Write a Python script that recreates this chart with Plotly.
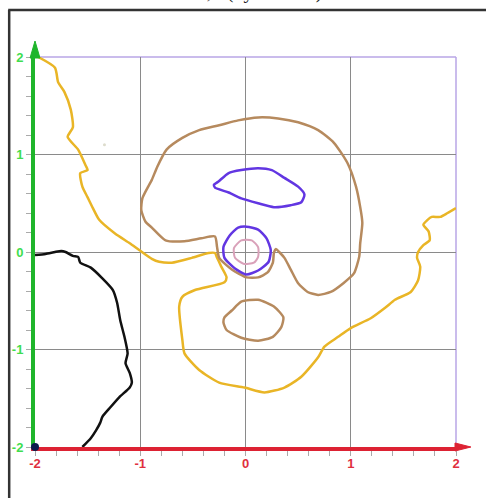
import plotly.graph_objects as go

# ---- data (data units) ----
yellow_x = [-1.97, -1.81, -1.78, -1.72, -1.66, -1.64, -1.69, -1.59, -1.52, -1.50, -1.57, -1.55, -1.50, -1.45, -1.39,
            -1.24, -1.10, -1.01, -0.89, -0.82, -0.70, -0.51, -0.35, -0.29, -0.27, -0.23, -0.18, -0.20, -0.48, -0.60,
            -0.63, -0.60, -0.58, -0.44, -0.25, -0.01, 0.18, 0.37, 0.53, 0.69, 0.75, 0.88, 1.00, 1.19, 1.33, 1.42,
            1.57, 1.64, 1.66, 1.63, 1.64, 1.69, 1.75, 1.74, 1.69, 1.73, 1.77, 1.85, 1.92, 2.00]
yellow_y = [2.00, 1.89, 1.74, 1.64, 1.46, 1.28, 1.18, 1.05, 0.89, 0.84, 0.81, 0.67, 0.56, 0.45, 0.33,
            0.19, 0.09, 0.02, -0.07, -0.10, -0.11, -0.06, -0.01, -0.01, -0.06, -0.15, -0.26, -0.31, -0.39, -0.46,
            -0.56, -0.90, -1.04, -1.21, -1.34, -1.39, -1.44, -1.39, -1.28, -1.08, -0.97, -0.87, -0.78, -0.68, -0.57, -0.49,
            -0.41, -0.29, -0.15, -0.06, 0.00, 0.07, 0.12, 0.21, 0.28, 0.33, 0.36, 0.36, 0.40, 0.45]

black_x = [-2.00, -1.90, -1.81, -1.75, -1.71, -1.64, -1.59, -1.57, -1.47, -1.36, -1.26, -1.22, -1.19, -1.15, -1.12,
           -1.14, -1.10, -1.08, -1.10, -1.20, -1.29, -1.36, -1.38, -1.42, -1.47, -1.55]
black_y = [-0.03, -0.02, 0.00, 0.01, 0.00, -0.04, -0.05, -0.11, -0.16, -0.27, -0.39, -0.52, -0.70, -0.87, -1.04,
           -1.14, -1.24, -1.34, -1.39, -1.49, -1.60, -1.69, -1.75, -1.83, -1.91, -2.00]

brown_x = [-0.29, -0.42, -0.58, -0.76, -0.89, -0.95, -0.99, -0.98, -0.93, -0.89, -0.84, -0.75, -0.60, -0.44, -0.25,
           -0.07, 0.12, 0.31, 0.50, 0.69, 0.84, 0.97, 1.05, 1.09, 1.11, 1.09, 1.08, 1.03, 0.93, 0.81, 0.69, 0.59,
           0.50, 0.43, 0.37, 0.32, 0.29, 0.27, 0.26, 0.21, 0.12, 0.01, -0.13, -0.25, -0.27, -0.29]
brown_y = [0.16, 0.14, 0.11, 0.12, 0.25, 0.31, 0.43, 0.55, 0.66, 0.74, 0.87, 1.05, 1.17, 1.25, 1.30,
           1.35, 1.38, 1.37, 1.33, 1.25, 1.12, 0.91, 0.67, 0.46, 0.30, 0.09, -0.05, -0.22, -0.32, -0.41, -0.44, -0.41,
           -0.32, -0.18, -0.06, 0.00, 0.03, -0.01, -0.11, -0.21, -0.26, -0.26, -0.18, -0.06, 0.05, 0.16]

oval_x = [-0.21, -0.20, -0.13, -0.04, 0.12, 0.27, 0.36, 0.34, 0.26, 0.12, -0.04, -0.18, -0.21]
oval_y = [-0.72, -0.67, -0.60, -0.51, -0.49, -0.56, -0.67, -0.77, -0.87, -0.91, -0.88, -0.80, -0.72]

blue_top_x = [-0.30, -0.26, -0.16, -0.04, 0.12, 0.25, 0.37, 0.50, 0.56, 0.53, 0.43, 0.27, 0.12, -0.04, -0.16, -0.29, -0.30]
blue_top_y = [0.69, 0.72, 0.81, 0.84, 0.86, 0.84, 0.76, 0.67, 0.59, 0.51, 0.48, 0.46, 0.50, 0.55, 0.61, 0.66, 0.69]

blue_ring_x = [0.01, 0.12, 0.20, 0.24, 0.22, 0.12, 0.01, -0.10, -0.20, -0.21, -0.15, -0.07, 0.01]
blue_ring_y = [0.26, 0.23, 0.14, 0.02, -0.10, -0.19, -0.23, -0.17, -0.06, 0.05, 0.17, 0.25, 0.26]

pink_x = [-0.04, 0.06, 0.12, 0.12, 0.08, -0.02, -0.10, -0.11, -0.04]
pink_y = [0.12, 0.12, 0.05, -0.05, -0.11, -0.12, -0.06, 0.04, 0.12]

tick_vals = [-2, -1, 0, 1, 2]
tick_text = ["-2", "-1", "0", "1", "2"]
title_text = "t = 0,5 (by value a)"

# ---- figure ----
W, H = 486, 498
ML, MR, MT, MB = 32, 30, 57, 51
PW, PH = W - ML - MR, H - MT - MB


def px(xp):
    return (xp - ML) / PW


def py(yp):
    return (H - MB - yp) / PH


fig = go.Figure()
curves = [
    (yellow_x, yellow_y, "#E9B526", 2.5),
    (black_x, black_y, "#111111", 2.5),
    (brown_x, brown_y, "#B68A5E", 2.5),
    (oval_x, oval_y, "#B68A5E", 2.5),
    (blue_top_x, blue_top_y, "#6236E2", 2.5),
    (blue_ring_x, blue_ring_y, "#6236E2", 2.5),
    (pink_x, pink_y, "#D9A1B9", 2),
]
for xs, ys, c, w in curves:
    fig.add_trace(go.Scatter(x=xs, y=ys, mode="lines", line=dict(color=c, width=w, shape="spline", smoothing=0.6),
                             hoverinfo="skip", showlegend=False))

fig.add_trace(go.Scatter(x=[-1.34], y=[1.10], mode="markers", marker=dict(color="#dddccc", size=3),
                         showlegend=False, hoverinfo="skip"))
fig.add_trace(go.Scatter(x=[-2], y=[-2], mode="markers", marker=dict(color="#0d1a4d", size=8),
                         cliponaxis=False, showlegend=False, hoverinfo="skip"))

axis_common = dict(range=[-2, 2], tickmode="array", tickvals=tick_vals, ticktext=tick_text,
                   showgrid=True, gridcolor="#8a8a8a", gridwidth=1, zeroline=False,
                   ticks="outside", ticklen=5, tickcolor="#aaaaaa", tickwidth=1,
                   minor=dict(dtick=0.2, tick0=0, ticks="outside", ticklen=5, tickcolor="#aaaaaa", showgrid=False),
                   showline=True, linewidth=4, fixedrange=True, layer="below traces")

fig.update_xaxes(**axis_common, linecolor="#DD2233", ticklabelstandoff=-4,
                 tickfont=dict(family="Liberation Sans, Arial", size=13, color="#E0303E", weight="bold"))
fig.update_yaxes(**axis_common, linecolor="#1FB52B",
                 tickfont=dict(family="Liberation Sans, Arial", size=13, color="#3FDD4F", weight="bold"))

shapes = [
    # lavender border at x=2 and y=2
    dict(type="line", xref="paper", yref="paper", x0=0, x1=1, y0=1, y1=1, line=dict(color="#B9A6E6", width=1.5),
         layer="below"),
    dict(type="line", xref="paper", yref="paper", x0=1, x1=1, y0=0, y1=1, line=dict(color="#B9A6E6", width=1.5),
         layer="below"),
    # arrows
    dict(type="path", xref="paper", yref="paper",
         path=f"M {px(27)} {py(58)} L {px(32)} {py(41)} L {px(37)} {py(58)} Z",
         fillcolor="#1FB52B", line=dict(color="#1FB52B", width=1)),
    dict(type="line", xref="paper", yref="paper", x0=1, x1=px(460), y0=0, y1=0, line=dict(color="#DD2233", width=4)),
    dict(type="path", xref="paper", yref="paper",
         path=f"M {px(455)} {py(443)} L {px(471)} {py(447)} L {px(455)} {py(451)} Z",
         fillcolor="#DD2233", line=dict(color="#DD2233", width=1)),
    # window frame
    dict(type="line", xref="paper", yref="paper", x0=px(6), x1=px(6), y0=py(10), y1=py(H + 2),
         line=dict(color="#333333", width=2.5)),
    dict(type="line", xref="paper", yref="paper", x0=px(5), x1=px(W + 2), y0=py(10), y1=py(10),
         line=dict(color="#333333", width=2.5)),
]

fig.update_layout(
    width=W, height=H,
    margin=dict(l=ML, r=MR, t=MT, b=MB, pad=0),
    paper_bgcolor="white", plot_bgcolor="white",
    shapes=shapes,
    annotations=[dict(text=title_text, xref="paper", yref="paper", x=px(245), y=py(5),
                      xanchor="center", yanchor="bottom", showarrow=False,
                      font=dict(family="Liberation Serif, Times New Roman", size=20, color="#222222"))],
)

fig.write_html("out.html", config={"displayModeBar": False, "staticPlot": True},
               post_script="document.body.style.margin='0';document.body.style.overflow='hidden';")
